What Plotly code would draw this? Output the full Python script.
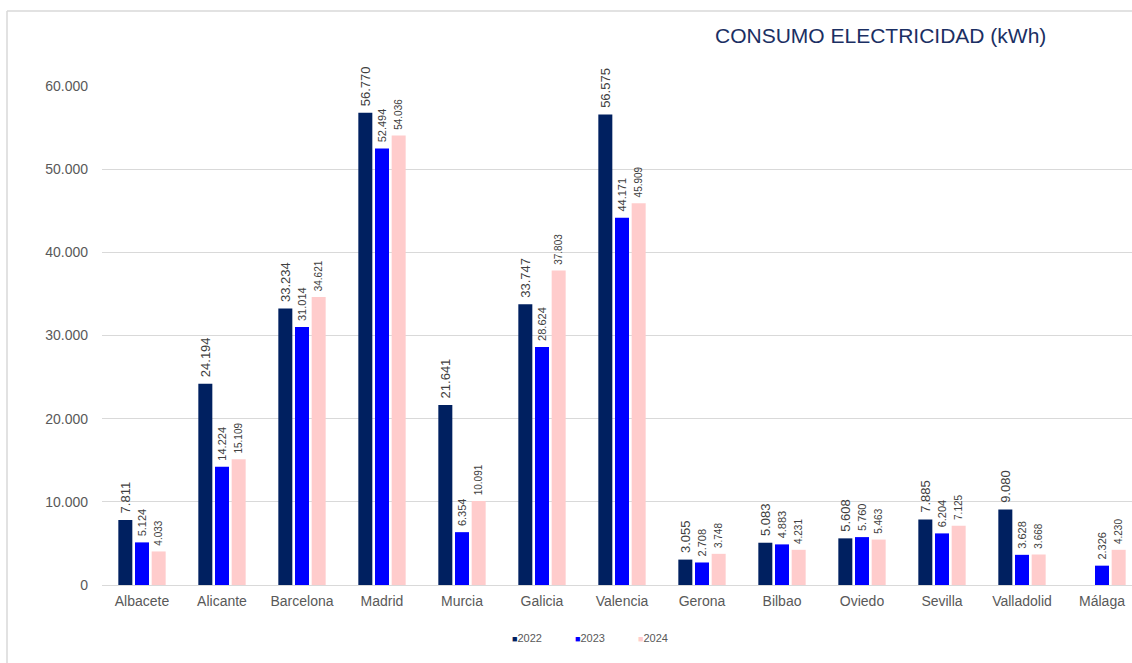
import plotly.graph_objects as go

cities = ["Albacete", "Alicante", "Barcelona", "Madrid", "Murcia", "Galicia", "Valencia",
          "Gerona", "Bilbao", "Oviedo", "Sevilla", "Valladolid", "Málaga"]
v2022 = [7811, 24194, 33234, 56770, 21641, 33747, 56575, 3055, 5083, 5608, 7885, 9080, None]
v2023 = [5124, 14224, 31014, 52494, 6354, 28624, 44171, 2708, 4883, 5760, 6204, 3628, 2326]
v2024 = [4033, 15109, 34621, 54036, 10091, 37803, 45909, 3748, 4231, 5463, 7125, 3668, 4230]

series = [("2022", v2022, "#002060", 13), ("2023", v2023, "#0000FF", 11), ("2024", v2024, "#FFCCCC", 10)]

fig = go.Figure()
for name, vals, color, fs in series:
    fig.add_trace(go.Bar(
        x=cities, y=vals, name=name, marker_color=color,
        marker_line_width=0,
        texttemplate="\u00a0%{y:,.0f}", textposition="outside", textangle=-90,
        textfont=dict(size=fs, color="#404040", family="Liberation Sans"),
        constraintext="none", cliponaxis=False, showlegend=False,
    ))

L, T, B = 102, 86, 78
W, H = 1132, 663
pw = W - L
ph = H - T - B

legend_x = [510, 573, 636]
annotations = [dict(text="CONSUMO ELECTRICIDAD (kWh)", xref="paper", yref="paper",
                    x=(713 - L) / pw, y=1 + (T - 35) / ph, xanchor="left", yanchor="middle",
                    showarrow=False, font=dict(size=21, color="#1B2F63", family="Liberation Sans"))]
for (name, vals, color, fs), lx in zip(series, legend_x):
    annotations.append(dict(
        text=f"<span style='color:{color};font-size:9px'>■</span>{name}",
        xref="paper", yref="paper", x=(lx - L) / pw, y=-(638 - (H - B)) / ph,
        xanchor="left", yanchor="middle", showarrow=False,
        font=dict(size=11, color="#595959", family="Liberation Sans")))

fig.update_layout(
    width=W, height=H,
    margin=dict(l=L, r=0, t=T, b=B),
    paper_bgcolor="white", plot_bgcolor="white",
    separators=",.",
    barmode="group", bargap=0.375, bargroupgap=0.16,
    font=dict(family="Liberation Sans", color="#595959"),
    xaxis=dict(range=[-0.5, 12.375], showgrid=False, showline=True, linecolor="#D9D9D9",
               linewidth=1, ticks="", tickfont=dict(size=14, color="#595959"),
               ticklabelstandoff=3),
    yaxis=dict(range=[0, 60000], dtick=10000, tickformat=",.0f", showgrid=True,
               gridcolor="#D9D9D9", zeroline=False, showline=False,
               tickfont=dict(size=14, color="#595959"), ticklabelstandoff=13),
    showlegend=False,
    annotations=annotations,
    shapes=[
        dict(type="line", xref="paper", yref="paper", x0=(7 - L) / pw, x1=(7 - L) / pw,
             y0=1 + (T - 11) / ph, y1=-(B + 5) / ph, line=dict(color="#D9D9D9", width=1.5)),
        dict(type="line", xref="paper", yref="paper", x0=(7 - L) / pw, x1=1.05,
             y0=1 + (T - 11) / ph, y1=1 + (T - 11) / ph, line=dict(color="#D9D9D9", width=1.5)),
    ],
)

fig.write_html("out.html")
